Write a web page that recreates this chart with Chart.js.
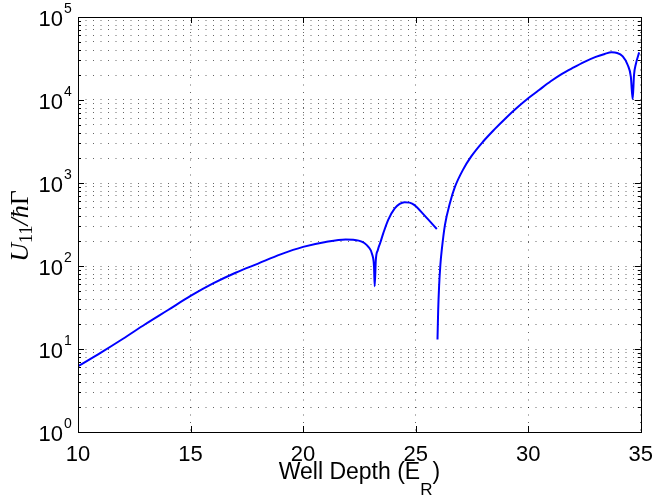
<!DOCTYPE html>
<html>
<head>
<meta charset="utf-8">
<title>U11 vs Well Depth</title>
<script src="https://cdn.jsdelivr.net/npm/chart.js@4/dist/chart.umd.min.js"></script>
<style>
    body { margin: 0; background: #ffffff; }
    #contenedor { width: 663px; height: 496px; }
</style>
</head>
<body>
<div id="contenedor">
    <canvas id="grafica" width="663" height="496"></canvas>
</div>
<script>
// Datos (null = corte de la curva)
const profundidad = [
    10, 11, 12, 13, 14, 15, 16, 17, 18, 19, 20, 21, 21.89, 22.47, 22.9, 23.08, 23.15, 23.18,
    23.23, 23.32, 23.42, 23.56, 23.78, 24.07, 24.29, 24.51, 24.73, 24.95, 25.38, 25.94,
    25.95,
    25.97, 26.0, 26.04, 26.1, 26.16, 26.3, 26.52, 26.74, 27.1, 27.47, 28, 28.5, 29, 29.5, 30, 30.5, 31, 31.5,
    32, 32.5, 33, 33.4, 33.7, 33.95, 34.2, 34.42, 34.56, 34.64, 34.7, 34.78, 34.93
];
const energia = [
    6.2, 9.0, 13.3, 20, 29.5, 43.6, 61.7, 83, 107, 138, 170, 195, 209, 202, 170, 135, 98, 57,
    118, 156, 188, 247, 360, 494, 560, 587, 580, 541, 410, 279,
    null,
    13, 29, 56, 105, 156, 311, 569, 890, 1440, 2090, 3160, 4420, 6030, 8040, 10470, 13300, 16800, 20650,
    24550, 28840, 33110, 35900, 37500, 36900, 33500, 26400, 19000, 10200, 20000, 27000, 37500
];
const ticksX = [10, 15, 20, 25, 30, 35];
const decadasY = [0, 1, 2, 3, 4, 5];

// Cargar el DOM antes de dibujar
document.addEventListener("DOMContentLoaded", function () {
    dibujarGrafica();
});

// Valores de la rejilla logaritmica (1..9 por decada)
function valoresRejilla() {
    const valores = [];
    for (let k = 0; k < decadasY.length - 1; k++) {
        for (let m = 1; m <= 9; m++) {
            valores.push(m * Math.pow(10, decadasY[k]));
        }
    }
    valores.push(Math.pow(10, decadasY[decadasY.length - 1]));
    return valores;
}

// Dibuja caja, marcas, etiquetas del eje y titulos al estilo matlab
const pluginMatlab = {
    id: "matlab",
    afterDraw(chart) {
        const ctx = chart.ctx;
        const area = chart.chartArea;
        const ejeX = chart.scales.x;
        const ejeY = chart.scales.y;
        ctx.save();

        // caja
        ctx.strokeStyle = "#000000";
        ctx.lineWidth = 1;
        ctx.strokeRect(Math.round(area.left) + 0.5, Math.round(area.top) + 0.5,
            Math.round(area.right - area.left), Math.round(area.bottom - area.top));

        // marcas hacia adentro
        ctx.beginPath();
        ticksX.forEach(v => {
            const px = Math.round(ejeX.getPixelForValue(v)) + 0.5;
            ctx.moveTo(px, area.bottom);
            ctx.lineTo(px, area.bottom - 6);
            ctx.moveTo(px, area.top);
            ctx.lineTo(px, area.top + 6);
        });
        valoresRejilla().forEach(v => {
            const py = Math.round(ejeY.getPixelForValue(v)) + 0.5;
            const mayor = Math.abs(Math.log10(v) - Math.round(Math.log10(v))) < 1e-9;
            const largo = mayor ? 6 : 3;
            ctx.moveTo(area.left, py);
            ctx.lineTo(area.left + largo, py);
            ctx.moveTo(area.right, py);
            ctx.lineTo(area.right - largo, py);
        });
        ctx.stroke();

        // etiquetas 10^k
        ctx.fillStyle = "#000000";
        decadasY.forEach(k => {
            const py = ejeY.getPixelForValue(Math.pow(10, k));
            ctx.font = "22px 'Liberation Sans', Arial, sans-serif";
            ctx.textAlign = "right";
            ctx.textBaseline = "alphabetic";
            ctx.fillText("10", area.left - 15, py + 9);
            ctx.font = "14px 'Liberation Sans', Arial, sans-serif";
            ctx.textAlign = "left";
            ctx.fillText(String(k), area.left - 14, py - 4);
        });

        // titulo eje x: Well Depth (E_R)
        const centroX = (area.left + area.right) / 2;
        ctx.textAlign = "left";
        ctx.font = "23px 'Liberation Sans', Arial, sans-serif";
        const t1 = "Well Depth (E";
        const w1 = ctx.measureText(t1).width;
        const w3 = ctx.measureText(")").width;
        ctx.font = "17px 'Liberation Sans', Arial, sans-serif";
        const w2 = ctx.measureText("R").width;
        let xi = centroX - (w1 + w2 + w3) / 2;
        ctx.font = "23px 'Liberation Sans', Arial, sans-serif";
        ctx.fillText(t1, xi, 479);
        ctx.font = "17px 'Liberation Sans', Arial, sans-serif";
        ctx.fillText("R", xi + w1, 495);
        ctx.font = "23px 'Liberation Sans', Arial, sans-serif";
        ctx.fillText(")", xi + w1 + w2, 479);

        // titulo eje y: U_11 / hbar Gamma
        const partes = [
            { texto: "U", font: "italic 26px 'Liberation Serif', serif", dy: 0 },
            { texto: "11", font: "18px 'Liberation Serif', serif", dy: 4 },
            { texto: "/", font: "italic 26px 'Liberation Serif', serif", dy: 0 },
            { texto: "\u0127", font: "italic 26px 'Liberation Serif', serif", dy: 0 },
            { texto: "\u0393", font: "26px 'Liberation Serif', serif", dy: 0 }
        ];
        let total = 0;
        partes.forEach(p => {
            ctx.font = p.font;
            p.ancho = ctx.measureText(p.texto).width;
            total += p.ancho;
        });
        ctx.translate(28, 226 + total / 2);
        ctx.rotate(-Math.PI / 2);
        let pos = 0;
        partes.forEach(p => {
            ctx.font = p.font;
            ctx.fillText(p.texto, pos, p.dy);
            pos += p.ancho;
        });

        ctx.restore();
    }
};

// Genera la grafica
function dibujarGrafica() {
    const canvas = document.getElementById("grafica");
    const puntos = profundidad.map((x, i) => ({ x: x, y: energia[i] }));
    const rejilla = valoresRejilla();
    const colorRejilla = "rgba(0, 0, 0, 0.6)";
    const punteado = [1, 6.5];

    new Chart(canvas, {
        type: "line",
        data: {
            datasets: [{
                data: puntos,
                borderColor: "#0000ff",
                borderWidth: 2,
                pointRadius: 0,
                spanGaps: false,
                cubicInterpolationMode: "monotone"
            }]
        },
        options: {
            responsive: false,
            animation: false,
            layout: { padding: { top: 17, right: 13, left: 0, bottom: 0 } },
            plugins: {
                legend: { display: false },
                tooltip: { enabled: false }
            },
            scales: {
                x: {
                    type: "linear",
                    min: 10,
                    max: 35,
                    afterFit: (scale) => { scale.height = 64; },
                    ticks: {
                        stepSize: 5,
                        color: "#000000",
                        padding: 10,
                        maxRotation: 0,
                        font: { family: "'Liberation Sans', Arial, sans-serif", size: 22 }
                    },
                    grid: { color: colorRejilla, lineWidth: 1, drawTicks: false, borderDash: punteado },
                    border: { display: false, dash: punteado }
                },
                y: {
                    type: "logarithmic",
                    min: 1,
                    max: 100000,
                    afterFit: (scale) => { scale.width = 78; },
                    afterBuildTicks: (scale) => {
                        scale.ticks = rejilla.map(v => ({ value: v }));
                    },
                    ticks: { display: false },
                    grid: { color: colorRejilla, lineWidth: 1, drawTicks: false, borderDash: punteado },
                    border: { display: false, dash: punteado }
                }
            }
        },
        plugins: [pluginMatlab]
    });
}
</script>
</body>
</html>
